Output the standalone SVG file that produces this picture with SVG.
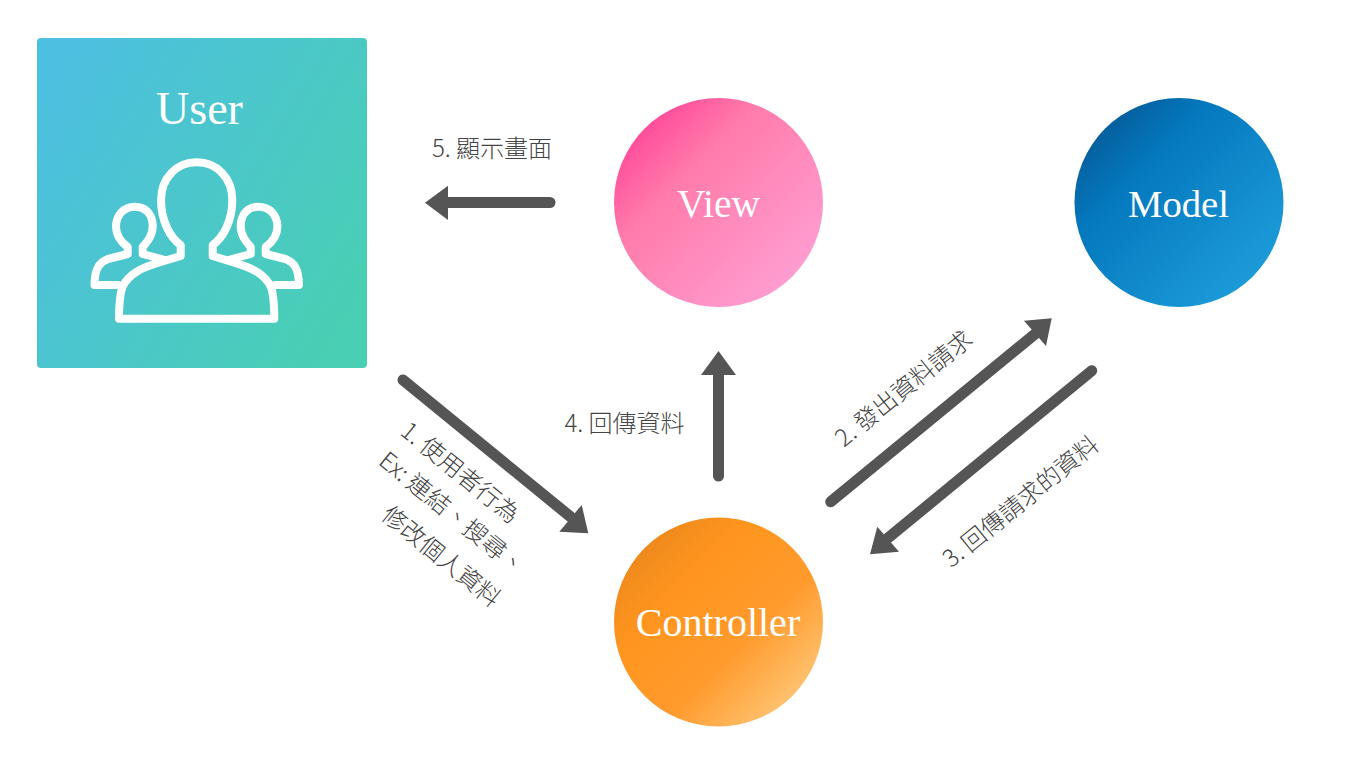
<svg xmlns="http://www.w3.org/2000/svg" width="1366" height="768" viewBox="0 0 1366 768">
<style>
.title{font-family:"Liberation Serif","Noto Sans CJK TC",serif;fill:#fff;text-anchor:middle}
.lbl{font-family:"Noto Sans CJK TC","Noto Sans",sans-serif;font-size:24px;font-weight:300;fill:#444;text-anchor:middle}
.line{stroke:#555;stroke-width:11;stroke-linecap:round;fill:none}
.head{fill:#555}
.ico{fill:none;stroke:#fff;stroke-width:8;stroke-linejoin:round;stroke-linecap:round}
</style>
<defs>
<linearGradient id="gU" x1="0" y1=".2" x2="1" y2=".8"><stop offset="0" stop-color="#4dbfe0"/><stop offset="1" stop-color="#49cfb3"/></linearGradient>
<linearGradient id="gV" x1=".15" y1=".15" x2=".85" y2=".85"><stop offset="0" stop-color="#ff4f9c"/><stop offset=".3" stop-color="#ff7cab"/><stop offset="1" stop-color="#ff9cd0"/></linearGradient>
<linearGradient id="gM" x1=".15" y1=".15" x2=".85" y2=".85"><stop offset="0" stop-color="#05609f"/><stop offset=".25" stop-color="#0478bd"/><stop offset="1" stop-color="#1c9ad8"/></linearGradient>
<linearGradient id="gC" x1=".15" y1=".15" x2=".85" y2=".85"><stop offset="0" stop-color="#ee8a1c"/><stop offset=".25" stop-color="#ff951e"/><stop offset=".65" stop-color="#ff9a2c"/><stop offset="1" stop-color="#ffc06c"/></linearGradient>
</defs>
<rect width="1366" height="768" fill="#fff"/>
<g id="user">
<rect x="37" y="38" width="330" height="330" rx="4" fill="url(#gU)"/>
<text class="title" x="199.500" y="124" font-size="46">User</text>
<path class="ico" d="M196.700 162.300C217 162.300 232.300 178 232.300 200C232.300 220 224 237 212.700 245L212.700 256L236.700 263.300C252 268 265 274 271 287C274 296 274.300 305 274.300 318.700L119 318.700C119 305 119.400 296 122.400 287C128.400 274 141.400 268 156.700 263.300L180.700 256L180.700 245C169.400 237 161.100 220 161.100 200C161.100 178 176.400 162.300 196.700 162.300Z"/>
<path class="ico" d="M165 260L142.700 254L142.700 247C148 241 152.700 235 152.700 226C152.700 214 145 206.700 135 206.700C124 206.700 116 215 116 226.700C116 235 121 242 127.700 247L127.700 254L108 259C100 262 94.500 268 94.500 285L118 285"/>
<path class="ico" d="M228.400 260L250.700 254L250.700 247C245.400 241 240.700 235 240.700 226C240.700 214 248.400 206.700 258.400 206.700C269.400 206.700 277.400 215 277.400 226.700C277.400 235 272.400 242 265.700 247L265.700 254L285.400 259C293.400 262 298.900 268 298.900 285L275.400 285"/>
</g>
<g id="view">
<circle cx="718.500" cy="202.500" r="104.500" fill="url(#gV)"/>
<text class="title" x="718.500" y="217" font-size="39.500">View</text>
</g>
<g id="model">
<circle cx="1179" cy="202.500" r="104.500" fill="url(#gM)"/>
<text class="title" x="1178.500" y="217" font-size="38.700">Model</text>
</g>
<g id="controller">
<circle cx="718.500" cy="622" r="104.500" fill="url(#gC)"/>
<text class="title" x="718" y="636" font-size="40">Controller</text>
</g>
<g id="connectors">
<line class="line" x1="403" y1="380" x2="572" y2="518"/><polygon class="head" points="588.300,533.300 581.700,505 559.300,531.700"/>
<line class="line" x1="830.700" y1="501.700" x2="1035" y2="334"/><polygon class="head" points="1051.700,318.300 1024,320.700 1046,346"/>
<line class="line" x1="1091.700" y1="370.700" x2="888" y2="538"/><polygon class="head" points="870,554.300 877.300,526.700 899,551.700"/>
<line class="line" x1="718.500" y1="476" x2="718.500" y2="372"/><polygon class="head" points="718.500,351 701,375 736,375"/>
<line class="line" x1="550" y1="202.500" x2="446" y2="202.500"/><polygon class="head" points="425,202.700 448,185.700 448,220"/>
</g>
<g id="labels">
<text class="lbl" x="492" y="157">5. 顯示畫面</text>
<text class="lbl" x="624.500" y="432">4. 回傳資料</text>
<text class="lbl" transform="translate(909 395) rotate(-39)">2. 發出資料請求</text>
<text class="lbl" transform="translate(1026 508) rotate(-39)">3. 回傳請求的資料</text>
<text class="lbl" transform="translate(455 479) rotate(39)">1. 使用者行為</text>
<text class="lbl" transform="translate(447 520) rotate(39)">Ex: 連結、搜尋、</text>
<text class="lbl" transform="translate(436 563) rotate(39)">修改個人資料</text>
</g>
</svg>
